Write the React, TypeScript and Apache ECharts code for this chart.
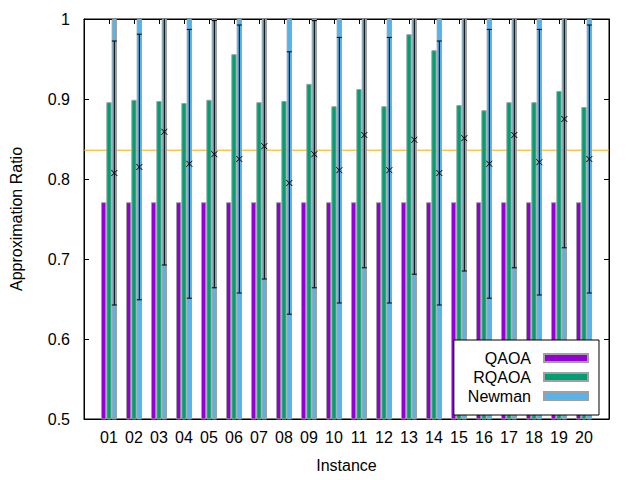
import React, { useEffect, useRef } from "react";
import * as echarts from "echarts";

const instances = ["01","02","03","04","05","06","07","08","09","10","11","12","13","14","15","16","17","18","19","20"];
const qaoa = [0.771,0.771,0.771,0.771,0.771,0.771,0.771,0.771,0.771,0.771,0.771,0.771,0.771,0.771,0.771,0.771,0.771,0.771,0.771,0.771];
const rqaoa = [0.896,0.899,0.8975,0.895,0.899,0.956,0.896,0.8975,0.919,0.891,0.9125,0.891,0.981,0.961,0.8925,0.886,0.896,0.896,0.910,0.890];
const newman = [1,1,1,1,1,1,1,1,1,1,1,1,1,1,1,1,1,1,1,1];
const sampleMean = [0.8075,0.815,0.859,0.819,0.831,0.825,0.841,0.795,0.831,0.811,0.855,0.811,0.849,0.8075,0.851,0.819,0.855,0.821,0.875,0.825];
const sampleErr = [0.165,0.166,0.1665,0.168,0.167,0.1675,0.166,0.164,0.167,0.166,0.166,0.166,0.168,0.165,0.166,0.168,0.166,0.166,0.161,0.1675];
const referenceLine = 0.836;
const yTicks = [0.5, 0.6, 0.7, 0.8, 0.9, 1];

const FONT = "'Liberation Sans', Arial, sans-serif";
const FS = 16;
const BAR_FRACTION = 0.2133;

export default function App() {
  const ref = useRef<HTMLDivElement>(null);
  useEffect(() => {
    if (!ref.current) return;
    const chart = echarts.init(ref.current, null, { renderer: "svg" });
    const cats = ["", ...instances, ""];
    const pad = (arr: number[]) => [null, ...arr, null];
    const errData = instances.map((_, i) => [i + 1, sampleMean[i], sampleErr[i]]);
    const barStyle = (color: string) => ({ color, borderColor: "#a0a0a0", borderWidth: 1 });
    const axisLineStyle = { color: "#000", width: 1 };
    const option: any = {
      animation: false,
      textStyle: { fontFamily: FONT },
      grid: { left: 84, right: 31, top: 19, bottom: 61, show: true, borderColor: "#000", borderWidth: 1, backgroundColor: "transparent" },
      legend: {
        data: ["QAOA", "RQAOA", "Newman"],
        orient: "vertical",
        align: "right",
        right: 41,
        bottom: 65,
        itemWidth: 44,
        itemHeight: 8,
        itemGap: 3,
        borderColor: "#000",
        borderWidth: 1,
        borderRadius: 0,
        padding: [10, 10, 11, 14],
        backgroundColor: "#fff",
        icon: "rect",
        textStyle: { fontSize: FS, color: "#000", fontFamily: FONT, lineHeight: 16, padding: [0, 8, 0, 0] },
      },
      xAxis: [
        {
          type: "category",
          data: cats,
          boundaryGap: false,
          name: "Instance",
          nameLocation: "middle",
          nameGap: 38,
          nameTextStyle: { fontSize: FS, color: "#000", fontFamily: FONT },
          axisLine: { lineStyle: axisLineStyle },
          axisTick: { inside: true, length: 5, interval: 0, lineStyle: axisLineStyle },
          axisLabel: { interval: 0, fontSize: FS, color: "#000", margin: 10, fontFamily: FONT },
          splitLine: { show: false },
        },
        {
          type: "category",
          data: cats,
          boundaryGap: false,
          position: "top",
          axisLine: { lineStyle: axisLineStyle },
          axisTick: { inside: true, length: 5, interval: 0, lineStyle: axisLineStyle },
          axisLabel: { show: false },
          splitLine: { show: false },
        },
      ],
      yAxis: [
        {
          type: "value",
          min: yTicks[0],
          max: yTicks[yTicks.length - 1],
          interval: 0.1,
          name: "Approximation Ratio",
          nameLocation: "middle",
          nameGap: 60,
          nameTextStyle: { fontSize: FS, color: "#000", fontFamily: FONT },
          axisLine: { show: true, lineStyle: axisLineStyle },
          axisTick: { show: true, inside: true, length: 5, lineStyle: axisLineStyle },
          axisLabel: {
            fontSize: FS,
            color: "#000",
            margin: 14,
            fontFamily: FONT,
            formatter: (v: number) => (Math.abs(v - 1) < 1e-9 ? "1" : v.toFixed(1)),
          },
          splitLine: { show: false },
        },
        {
          type: "value",
          min: yTicks[0],
          max: yTicks[yTicks.length - 1],
          interval: 0.1,
          position: "right",
          axisLine: { show: true, lineStyle: axisLineStyle },
          axisTick: { show: true, inside: true, length: 5, lineStyle: axisLineStyle },
          axisLabel: { show: false },
          splitLine: { show: false },
        },
      ],
      series: [
        {
          name: "mean",
          type: "line",
          data: cats.map(() => referenceLine),
          symbol: "none",
          lineStyle: { color: "#ffa500", width: 1 },
          itemStyle: { color: "#ffa500" },
          z: 1,
          silent: true,
        },
        {
          name: "QAOA",
          type: "bar",
          data: pad(qaoa),
          barWidth: `${BAR_FRACTION * 100}%`,
          barGap: "0%",
          itemStyle: barStyle("#9400d3"),
          z: 2,
        },
        {
          name: "RQAOA",
          type: "bar",
          data: pad(rqaoa),
          barWidth: `${BAR_FRACTION * 100}%`,
          barGap: "0%",
          itemStyle: barStyle("#009e73"),
          z: 2,
        },
        {
          name: "Newman",
          type: "bar",
          data: pad(newman),
          barWidth: `${BAR_FRACTION * 100}%`,
          barGap: "0%",
          itemStyle: barStyle("#56b4e9"),
          z: 2,
        },
        {
          name: "samples",
          type: "custom",
          clip: true,
          z: 3,
          data: errData,
          renderItem: (params: any, api: any) => {
            const idx = api.value(0);
            const mean = api.value(1);
            const err = api.value(2);
            const band = api.size([1, 0])[0];
            const off = band * BAR_FRACTION;
            const c = api.coord([idx, mean]);
            const lo = api.coord([idx, mean - err]);
            const hi = api.coord([idx, mean + err]);
            const x = c[0] + off;
            const cap = 2.5;
            const m = 3;
            const style = { stroke: "#000", lineWidth: 1 };
            return {
              type: "group",
              children: [
                { type: "line", shape: { x1: x, y1: lo[1], x2: x, y2: hi[1] }, style },
                { type: "line", shape: { x1: x - cap, y1: lo[1], x2: x + cap, y2: lo[1] }, style },
                { type: "line", shape: { x1: x - cap, y1: hi[1], x2: x + cap, y2: hi[1] }, style },
                { type: "line", shape: { x1: x - m, y1: c[1] - m, x2: x + m, y2: c[1] + m }, style },
                { type: "line", shape: { x1: x - m, y1: c[1] + m, x2: x + m, y2: c[1] - m }, style },
              ],
            };
          },
        },
      ],
    };
    chart.setOption(option);
    return () => chart.dispose();
  }, []);
  return <div ref={ref} style={{ position: "fixed", left: 0, top: 0, width: 640, height: 480, background: "#fff" }} />;
}
